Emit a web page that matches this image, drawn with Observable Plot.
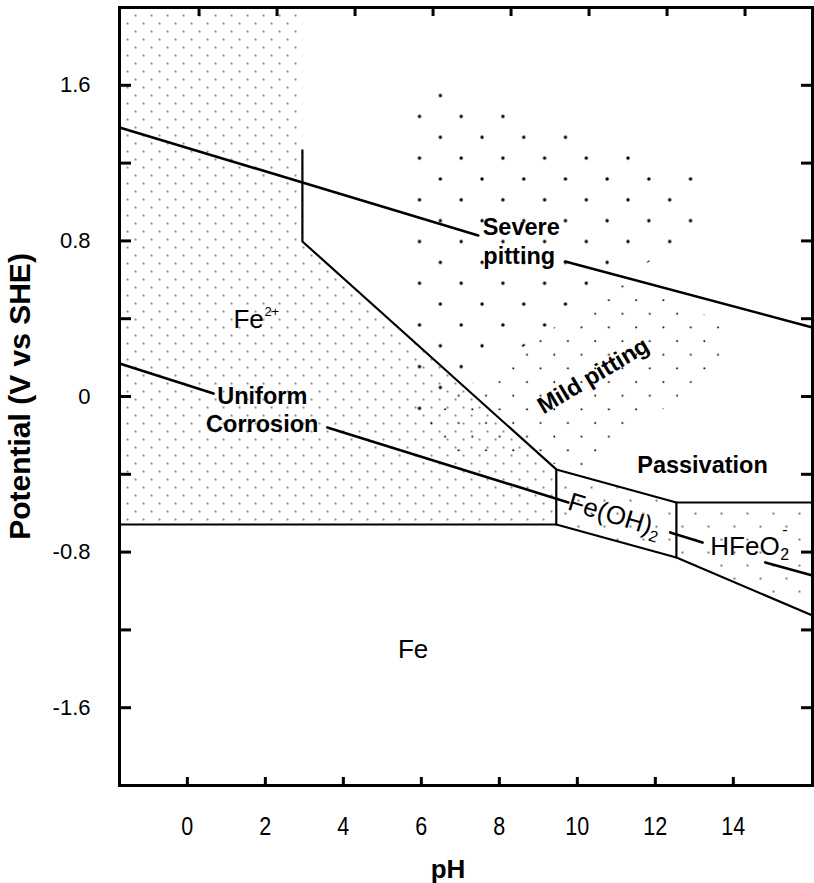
<!DOCTYPE html>
<html><head><meta charset="utf-8">
<script src="https://cdn.jsdelivr.net/npm/d3@7"></script>
<script src="https://cdn.jsdelivr.net/npm/@observablehq/plot@0.6"></script>
<style>html,body{margin:0;padding:0;background:#fff;overflow:hidden}</style>
</head><body><div id="chart"></div>
<script>
// ---- axis ticks ----
const phTicks = [0, 2, 4, 6, 8, 10, 12, 14];
const phTopTicks = [0.3, 2.3, 4.3, 6.3, 8.3, 10.3, 12.3, 14.3];
const eTicks = [-1.6, -1.2, -0.8, -0.4, 0, 0.4, 0.8, 1.2, 1.6];
const eLabels = [-1.6, -0.8, 0, 0.8, 1.6];

// ---- regions [pH, E] ----
const fe2Region = [[-1.74, 2], [2.95, 2], [2.95, 0.797], [9.46, -0.375], [9.46, -0.658], [-1.74, -0.658]];
const feoh2Region = [[9.46, -0.375], [12.54, -0.545], [12.54, -0.828], [9.46, -0.658]];
const hfeo2Region = [[12.54, -0.545], [16.03, -0.545], [16.03, -1.126], [12.54, -0.828]];
const severeRegion = [[5.77, 1.599], [6.23, 1.599], [13.21, 1.131], [13.21, 0.879], [6.0, -0.098], [5.77, -0.098]];
const mildRegion = [[6.0, -0.108], [11.23, 0.602], [13.72, 0.38], [13.72, 0.185], [10.33, -0.37], [6.23, -0.267], [5.87, -0.149]];

// ---- boundary lines ----
const boundaryLines = [
  [[2.95, 1.265], [2.95, 0.797], [9.46, -0.375], [9.46, -0.658]],
  [[-1.74, -0.658], [9.46, -0.658], [12.54, -0.828], [16.03, -1.126]],
  [[9.46, -0.375], [12.54, -0.545], [16.03, -0.545]],
  [[12.54, -0.545], [12.54, -0.828]]
];
// oxygen line (broken for label)
const oxygenLine = [
  [[-1.74, 1.383], [7.46, 0.828]],
  [[9.69, 0.694], [16.03, 0.355]]
];
// hydrogen line (broken for labels)
const hydrogenLine = [
  [[-1.74, 0.170], [0.67, 0.015]],
  [[3.59, -0.159], [9.77, -0.545]],
  [[12.38, -0.699], [13.21, -0.751]],
  [[14.82, -0.853], [16.03, -0.920]]
];

// ---- labels ----
const boldLabels = [
  {text: "Severe", x: 8.56, y: 0.828},
  {text: "pitting", x: 8.51, y: 0.679},
  {text: "Uniform", x: 1.92, y: -0.041},
  {text: "Corrosion", x: 1.92, y: -0.185},
  {text: "Passivation", x: 13.21, y: -0.391}
];
const mildLabel = [{text: "Mild pitting", x: 9.13, y: -0.093}];
const feLabel = [{text: "Fe", x: 5.79, y: -1.342}];
const fe2Label = [{text: "Fe", sup: "2+", x: 1.18, y: 0.350}];
const feoh2Label = [{text: "Fe(OH)", sub: "2", x: 9.72, y: -0.58}];
const hfeo2Label = [{text: "HFeO", sub: "2", sup: "-", x: 13.41, y: -0.817}];

const toRows = (lines, kind) => lines.flatMap((pts, i) => pts.map(([x, y]) => ({x, y, z: kind + i})));
const poly = (pts) => pts.map(([x, y]) => ({x, y}));

const frameW = 693, frameH = 778;
const regular = 26, bold = 23.5;

const chart = Plot.plot({
  width: 814, height: 883,
  marginLeft: 119, marginRight: 2, marginTop: 7, marginBottom: 98,
  style: {fontFamily: "'Liberation Sans', Arial, Helvetica, sans-serif", fontSize: "22px", background: "#fff", color: "#000"},
  x: {domain: [-1.74, 16.03]},
  y: {domain: [-2, 2]},
  marks: [
    Plot.line(poly(fe2Region), {x: "x", y: "y", fill: "url(#fine)", stroke: "none"}),
    Plot.line(poly(feoh2Region), {x: "x", y: "y", fill: "url(#medium)", stroke: "none"}),
    Plot.line(poly(hfeo2Region), {x: "x", y: "y", fill: "url(#medium)", stroke: "none"}),
    Plot.line(poly(severeRegion), {x: "x", y: "y", fill: "url(#severe)", stroke: "none"}),
    Plot.line(poly(mildRegion), {x: "x", y: "y", fill: "url(#mild)", stroke: "none"}),
    Plot.line(toRows(boundaryLines, "b"), {x: "x", y: "y", z: "z", stroke: "#000", strokeWidth: 2.2, strokeLinejoin: "miter"}),
    Plot.line(toRows(oxygenLine, "o"), {x: "x", y: "y", z: "z", stroke: "#000", strokeWidth: 2.6}),
    Plot.line(toRows(hydrogenLine, "h"), {x: "x", y: "y", z: "z", stroke: "#000", strokeWidth: 2.6}),
    // ticks (inward)
    Plot.tickX(phTicks, {x: d => d, insetTop: frameH - 8, strokeWidth: 3}),
    Plot.tickX(phTopTicks, {x: d => d, insetBottom: frameH - 9, strokeWidth: 3}),
    Plot.tickY(eTicks, {y: d => d, insetRight: frameW - 12, strokeWidth: 3}),
    Plot.tickY(eTicks, {y: d => d, insetLeft: frameW - 11, strokeWidth: 3}),
    Plot.frame({stroke: "#000", strokeWidth: 3}),
    Plot.axisX(phTicks, {tickSize: 0, tickPadding: 32, fontSize: 22, label: null, tickFormat: d => String(d)}),
    Plot.axisY(eLabels, {tickSize: 0, tickPadding: 29, fontSize: 22, label: null, tickFormat: d => d === 0 ? "0" : d.toFixed(1)}),
    // axis titles
    Plot.text(["pH"], {frameAnchor: "bottom", dy: 92, dx: -18, lineAnchor: "bottom", fontSize: 26, fontWeight: "bold"}),
    Plot.text(["Potential (V vs SHE)"], {frameAnchor: "left", rotate: -90, dx: -99, dy: 0, fontSize: 30, fontWeight: "bold", textAnchor: "middle", lineAnchor: "middle"}),
    // labels
    Plot.text(boldLabels, {x: "x", y: "y", text: "text", textAnchor: "middle", lineAnchor: "bottom", fontSize: bold, fontWeight: "bold"}),
    Plot.text(mildLabel, {x: "x", y: "y", text: "text", textAnchor: "start", lineAnchor: "bottom", rotate: -31, fontSize: bold, fontWeight: "bold"}),
    Plot.text(feLabel, {x: "x", y: "y", text: "text", textAnchor: "middle", lineAnchor: "bottom", fontSize: regular}),
    Plot.text(fe2Label, {x: "x", y: "y", text: "text", textAnchor: "start", lineAnchor: "bottom", fontSize: regular}),
    Plot.text(fe2Label, {x: "x", y: "y", text: "sup", textAnchor: "start", lineAnchor: "bottom", fontSize: 13, dx: 31, dy: -12}),
    Plot.text(feoh2Label, {x: "x", y: "y", text: "text", textAnchor: "start", lineAnchor: "bottom", rotate: 17, fontSize: regular}),
    Plot.text(feoh2Label, {x: "x", y: "y", text: "sub", textAnchor: "start", lineAnchor: "bottom", rotate: 17, fontSize: 16, dx: 81, dy: 31}),
    Plot.text(hfeo2Label, {x: "x", y: "y", text: "text", textAnchor: "start", lineAnchor: "bottom", fontSize: regular}),
    Plot.text(hfeo2Label, {x: "x", y: "y", text: "sub", textAnchor: "start", lineAnchor: "bottom", fontSize: 16, dx: 70, dy: 5}),
    Plot.text(hfeo2Label, {x: "x", y: "y", text: "sup", textAnchor: "start", lineAnchor: "bottom", fontSize: 16, dx: 72, dy: -20})
  ]
});

// dot patterns
d3.select(chart).insert("defs", ":first-child").html(`
  <pattern id="fine" patternUnits="userSpaceOnUse" x="131" y="11" width="16" height="16">
    <circle cx="4" cy="4" r="0.8" fill="#000"/><circle cx="12" cy="12" r="0.8" fill="#000"/>
  </pattern>
  <pattern id="medium" patternUnits="userSpaceOnUse" x="0" y="0" width="26" height="26">
    <circle cx="6" cy="6" r="0.85" fill="#000"/><circle cx="19" cy="19" r="0.85" fill="#000"/>
  </pattern>
  <pattern id="severe" patternUnits="userSpaceOnUse" x="409" y="106" width="41.7" height="41.7">
    <circle cx="10" cy="10" r="1.7" fill="#000"/><circle cx="30.85" cy="30.85" r="1.7" fill="#000"/>
  </pattern>
  <pattern id="mild" patternUnits="userSpaceOnUse" x="612" y="276" width="27.3" height="27.3">
    <circle cx="10" cy="10" r="1.0" fill="#000"/><circle cx="23.65" cy="23.65" r="1.0" fill="#000"/>
  </pattern>`);

// the reference's x tick labels are drawn slightly condensed and tall
d3.select(chart).selectAll('g[aria-label="x-axis tick label"] text').each(function () {
  const t = this.getAttribute("transform") || "";
  this.setAttribute("transform", t + " scale(0.98,1.14)");
});

document.getElementById("chart").appendChild(chart);
</script></body></html>
